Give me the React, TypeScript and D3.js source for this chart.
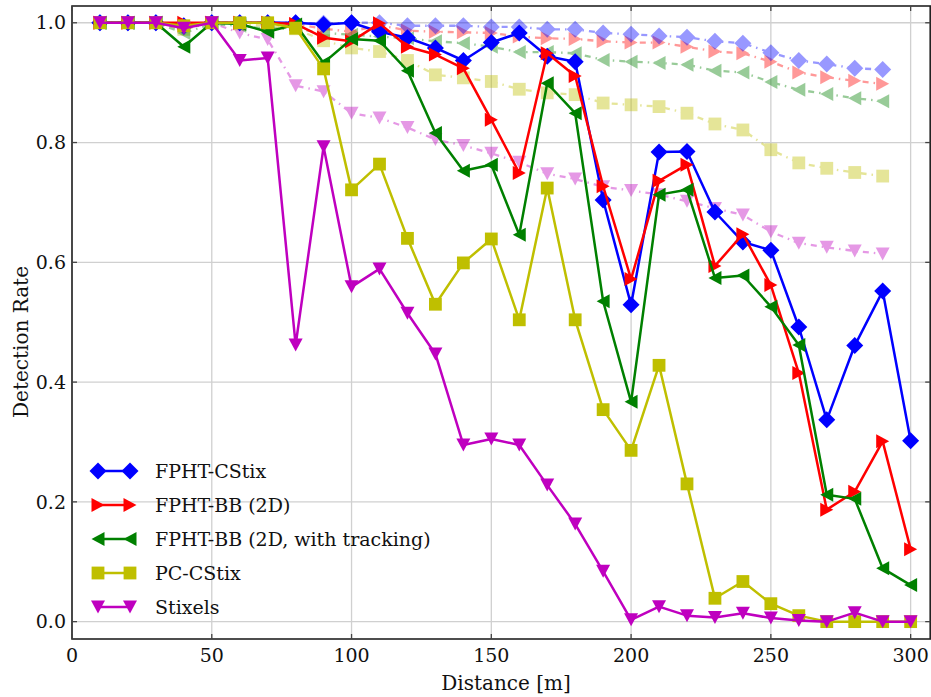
import React from "react";
import * as d3 from "d3";

const distances = [10,20,30,40,50,60,70,80,90,100,110,120,130,140,150,160,170,180,190,200,210,220,230,240,250,260,270,280,290,300];
const fadedDistances = distances.slice(0, 29);

const cstix = [1.0,1.0,1.0,0.995,1.0,1.0,1.0,1.0,0.997,1.0,0.985,0.975,0.958,0.937,0.967,0.983,0.944,0.935,0.704,0.529,0.784,0.785,0.684,0.634,0.620,0.492,0.337,0.461,0.552,0.302];
const bb2d = [1.0,1.0,1.0,1.0,1.0,1.0,1.0,0.998,0.975,0.969,0.999,0.960,0.947,0.924,0.838,0.749,0.949,0.911,0.727,0.572,0.736,0.763,0.594,0.647,0.562,0.415,0.187,0.217,0.301,0.121];
const bbTrack = [1.0,1.0,1.0,0.960,1.0,0.998,0.985,0.997,0.933,0.973,0.970,0.920,0.816,0.753,0.763,0.646,0.899,0.849,0.535,0.367,0.713,0.721,0.574,0.578,0.526,0.462,0.212,0.205,0.089,0.061];
const pcCstix = [1.0,1.0,1.0,0.995,1.0,1.0,1.0,0.991,0.923,0.721,0.764,0.640,0.530,0.599,0.639,0.504,0.724,0.504,0.354,0.286,0.428,0.230,0.039,0.067,0.030,0.010,0.0,0.0,0.0,0.0];
const stixels = [1.0,1.0,1.0,0.991,1.0,0.937,0.941,0.462,0.793,0.559,0.589,0.515,0.447,0.295,0.305,0.295,0.228,0.163,0.084,0.003,0.025,0.010,0.007,0.014,0.006,0.002,0.0,0.015,0.0,0.0];

const cstixFaded = [1.0,1.0,1.0,0.993,1.0,1.0,1.0,1.0,0.999,1.0,1.0,0.995,0.995,0.995,0.993,0.993,0.989,0.989,0.983,0.981,0.978,0.976,0.969,0.966,0.950,0.937,0.931,0.924,0.922];
const bb2dFaded = [1.0,1.0,1.0,0.995,1.0,1.0,1.0,0.998,0.99,0.985,0.996,0.987,0.985,0.984,0.983,0.977,0.974,0.973,0.969,0.967,0.967,0.960,0.952,0.949,0.935,0.917,0.909,0.903,0.898];
const bbTrackFaded = [1.0,1.0,1.0,0.983,0.998,0.995,0.99,0.99,0.983,0.98,0.977,0.974,0.969,0.966,0.960,0.951,0.951,0.949,0.938,0.935,0.933,0.930,0.920,0.917,0.901,0.888,0.881,0.874,0.869];
const pcCstixFaded = [1.0,1.0,1.0,0.989,1.0,0.998,0.995,0.99,0.97,0.958,0.952,0.937,0.913,0.908,0.902,0.889,0.883,0.880,0.866,0.863,0.860,0.849,0.831,0.821,0.788,0.766,0.757,0.750,0.744];
const stixelsFaded = [1.0,1.0,1.0,0.99,1.0,0.983,0.972,0.895,0.885,0.849,0.841,0.825,0.805,0.795,0.782,0.767,0.748,0.739,0.726,0.720,0.713,0.702,0.690,0.679,0.651,0.632,0.625,0.619,0.614];

const seriesNames = ["FPHT-CStix", "FPHT-BB (2D)", "FPHT-BB (2D, with tracking)", "PC-CStix", "Stixels"];
const seriesColors = ["#0000ff", "#ff0000", "#008000", "#bfbf00", "#bf00bf"];
const seriesMarkers = ["diamond", "right", "left", "square", "down"];
const solidValues = [cstix, bb2d, bbTrack, pcCstix, stixels];
const fadedValues = [cstixFaded, bb2dFaded, bbTrackFaded, pcCstixFaded, stixelsFaded];

const xTicks = [0, 50, 100, 150, 200, 250, 300];
const yTicks = [0.0, 0.2, 0.4, 0.6, 0.8, 1.0];

const W = 931, H = 697;
const M = { left: 72, right: 930.2, top: 6, bottom: 639 };
const FONT = "'DejaVu Serif', 'Liberation Serif', serif";

function markerPath(kind: string): string {
  switch (kind) {
    case "diamond": { const r = 8.5; return `M0,${-r}L${r},0L0,${r}L${-r},0Z`; }
    case "square": { const s = 6.4; return `M${-s},${-s}L${s},${-s}L${s},${s}L${-s},${s}Z`; }
    case "right": { const h = 6.5, b = 7; return `M${h},0L${-h},${-b}L${-h},${b}Z`; }
    case "left": { const h = 6.5, b = 7; return `M${-h},0L${h},${-b}L${h},${b}Z`; }
    case "down": { const h = 6.5, b = 7; return `M0,${h}L${-b},${-h}L${b},${-h}Z`; }
    default: return "";
  }
}

export default function App() {
  const x = d3.scaleLinear().domain([0, 307]).range([M.left, M.right]);
  const y = d3.scaleLinear().domain([-0.029, 1.028]).range([M.bottom, M.top]);
  const line = (xs: number[]) => d3.line<number>().x((_, i) => x(xs[i])).y((d) => y(d));

  const legendRows = [471, 505, 539, 573, 607];

  return (
    <svg width={W} height={H} style={{ position: "absolute", left: 0, top: 0, background: "#fff" }} fontFamily={FONT}>
      <rect x={0} y={0} width={W} height={H} fill="#fff" />
      {/* grid */}
      {xTicks.map((t) => (
        <line key={"gx" + t} x1={x(t)} x2={x(t)} y1={M.top} y2={M.bottom} stroke="#d0d0d0" strokeWidth={1.3} />
      ))}
      {yTicks.map((t) => (
        <line key={"gy" + t} x1={M.left} x2={M.right} y1={y(t)} y2={y(t)} stroke="#d0d0d0" strokeWidth={1.3} />
      ))}
      {/* faded series */}
      {[4, 3, 2, 1, 0].map((k) => (
        <g key={"f" + k} opacity={0.4}>
          <path d={line(fadedDistances)(fadedValues[k]) || ""} fill="none" stroke={seriesColors[k]} strokeWidth={2.3} strokeDasharray="6,5,1.5,5" />
          {fadedValues[k].map((v, i) => (
            <path key={i} d={markerPath(seriesMarkers[k])} transform={`translate(${x(fadedDistances[i])},${y(v)})`} fill={seriesColors[k]} />
          ))}
        </g>
      ))}
      {/* solid series */}
      {[0, 1, 2, 3, 4].map((k) => (
        <g key={"s" + k}>
          <path d={line(distances)(solidValues[k]) || ""} fill="none" stroke={seriesColors[k]} strokeWidth={2.5} strokeLinejoin="round" />
          {solidValues[k].map((v, i) => (
            <path key={i} d={markerPath(seriesMarkers[k])} transform={`translate(${x(distances[i])},${y(v)})`} fill={seriesColors[k]} />
          ))}
        </g>
      ))}
      {/* spines */}
      <rect x={M.left} y={M.top} width={M.right - M.left} height={M.bottom - M.top} fill="none" stroke="#222" strokeWidth={1.6} />
      {/* ticks */}
      {xTicks.map((t) => (
        <g key={"tx" + t}>
          <line x1={x(t)} x2={x(t)} y1={M.bottom} y2={M.bottom - 5} stroke="#444" strokeWidth={1.3} />
          <line x1={x(t)} x2={x(t)} y1={M.top} y2={M.top + 5} stroke="#444" strokeWidth={1.3} />
          <text x={x(t)} y={662} textAnchor="middle" fontSize={19} fill="#111">{t}</text>
        </g>
      ))}
      {yTicks.map((t) => (
        <g key={"ty" + t}>
          <line x1={M.left} x2={M.left + 5} y1={y(t)} y2={y(t)} stroke="#444" strokeWidth={1.3} />
          <line x1={M.right} x2={M.right - 5} y1={y(t)} y2={y(t)} stroke="#444" strokeWidth={1.3} />
          <text x={66} y={y(t)} dy="0.35em" textAnchor="end" fontSize={19} fill="#111">{t.toFixed(1)}</text>
        </g>
      ))}
      {/* axis labels */}
      <text x={506} y={690} textAnchor="middle" fontSize={20} fill="#111">Distance [m]</text>
      <text transform={`translate(28,342) rotate(-90)`} textAnchor="middle" fontSize={20} fill="#111">Detection Rate</text>
      {/* legend */}
      {seriesNames.map((name, k) => (
        <g key={"l" + k}>
          <line x1={98} x2={130} y1={legendRows[k]} y2={legendRows[k]} stroke={seriesColors[k]} strokeWidth={2.5} />
          <path d={markerPath(seriesMarkers[k])} transform={`translate(98,${legendRows[k]})`} fill={seriesColors[k]} />
          <path d={markerPath(seriesMarkers[k])} transform={`translate(130,${legendRows[k]})`} fill={seriesColors[k]} />
          <text x={155} y={legendRows[k]} dy="0.35em" fontSize={19} fill="#111">{name}</text>
        </g>
      ))}
    </svg>
  );
}
